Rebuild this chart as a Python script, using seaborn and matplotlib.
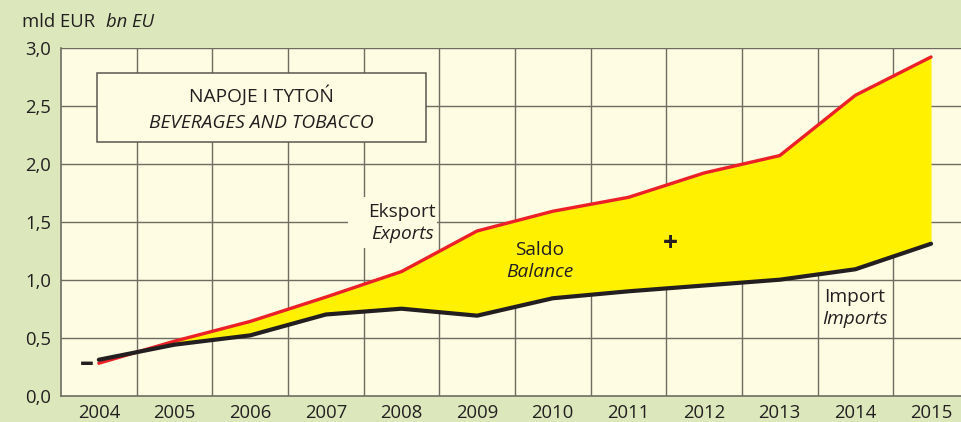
import matplotlib
matplotlib.use("Agg")
import matplotlib.pyplot as plt
import seaborn as sns
import pandas as pd
import numpy as np

# Data (bn EUR)
years = ["2004", "2005", "2006", "2007", "2008", "2009", "2010", "2011",
         "2012", "2013", "2014", "2015"]
exports = [0.28, 0.47, 0.64, 0.85, 1.07, 1.42, 1.59, 1.71, 1.92, 2.07, 2.59, 2.92]
imports = [0.31, 0.44, 0.52, 0.70, 0.75, 0.69, 0.84, 0.90, 0.95, 1.00, 1.09, 1.31]
y_ticks = [0.0, 0.5, 1.0, 1.5, 2.0, 2.5, 3.0]
y_tick_labels = ["0,0", "0,5", "1,0", "1,5", "2,0", "2,5", "3,0"]

FIG_BG = "#dce8bc"
AX_BG = "#fefce2"
GRID = "#6f6c62"
RED = "#ec2027"
BLACK = "#231f20"
YELLOW = "#fff100"
TEXT = "#231f20"

sns.set_theme(style="white")
plt.rcParams["font.family"] = ["Open Sans", "DejaVu Sans"]

df = pd.DataFrame({
    "x": np.arange(len(years)),
    "year": years,
    "Eksport": exports,
    "Import": imports,
})

fig = plt.figure(figsize=(9.61, 4.22), dpi=100, facecolor=FIG_BG)
W, H = 961, 422
left, right, top, bottom = 61, 961, 47.7, 395.7
ax = fig.add_axes([left / W, 1 - bottom / H, (right - left) / W, (bottom - top) / H])
ax.set_facecolor(AX_BG)

x = df["x"].to_numpy(dtype=float)
ex = df["Eksport"].to_numpy()
im = df["Import"].to_numpy()

# Balance area (export surplus)
ax.fill_between(x, im, ex, where=ex >= im, interpolate=True,
                color=YELLOW, linewidth=0, zorder=2)

sns.lineplot(data=df, x="x", y="Eksport", ax=ax, color=RED, linewidth=2.4,
             zorder=3, legend=False)
sns.lineplot(data=df, x="x", y="Import", ax=ax, color=BLACK, linewidth=3.0,
             zorder=4, legend=False)

ax.set_xlim(-0.5, (right - 98.9) / 75.65)
ax.set_ylim(0, 3.0)

# grid: horizontal at ticks, vertical between categories
for yv in y_ticks[1:]:
    ax.axhline(yv, color=GRID, linewidth=1.0, zorder=1)
for i in range(len(years)):
    ax.axvline(i + 0.5, color=GRID, linewidth=1.0, zorder=1)

for s in ["top", "right"]:
    ax.spines[s].set_visible(False)
for s in ["left", "bottom"]:
    ax.spines[s].set_color(GRID)
    ax.spines[s].set_linewidth(1.2)

FS = 13.8
ax.set_xticks(x)
ax.set_xticklabels(years, fontsize=13.3, color=TEXT)
ax.set_yticks(y_ticks)
ax.set_yticklabels(y_tick_labels, fontsize=13.3, color=TEXT)
ax.tick_params(axis="both", length=0)
ax.tick_params(axis="y", pad=7)
ax.tick_params(axis="x", pad=6)
ax.set_xlabel("")
ax.set_ylabel("")

# unit label
fig.text(22 / W, 1 - 22 / H, "mld EUR", fontsize=13.3, color=TEXT, va="center", ha="left")
fig.text(106 / W, 1 - 22 / H, "bn EU", fontsize=13.3, color=TEXT, va="center",
         ha="left", style="italic")

# title box
box_x0, box_x1 = -0.03, 4.33
box_y0, box_y1 = 2.19, 2.78
ax.add_patch(plt.Rectangle((box_x0, box_y0), box_x1 - box_x0, box_y1 - box_y0,
                           facecolor=AX_BG, edgecolor="#5a5750", linewidth=1.1,
                           zorder=5))
ax.text((box_x0 + box_x1) / 2, 2.585, "NAPOJE I TYTOŃ", ha="center", va="center",
        fontsize=FS, color=TEXT, zorder=6)
ax.text((box_x0 + box_x1) / 2, 2.355, "BEVERAGES AND TOBACCO", ha="center",
        va="center", fontsize=FS, color=TEXT, style="italic", zorder=6)

# series labels
ax.add_patch(plt.Rectangle((3.29, 1.27), 1.18, 0.44, facecolor=AX_BG,
                           edgecolor="none", zorder=1.5))
ax.text(4.01, 1.585, "Eksport", ha="center", va="center", fontsize=FS,
        color=TEXT, zorder=6)
ax.text(4.01, 1.395, "Exports", ha="center", va="center", fontsize=FS,
        color=TEXT, style="italic", zorder=6)

ax.text(5.83, 1.255, "Saldo", ha="center", va="center", fontsize=FS,
        color=TEXT, zorder=6)
ax.text(5.83, 1.065, "Balance", ha="center", va="center", fontsize=FS,
        color=TEXT, style="italic", zorder=6)

ax.text(7.55, 1.31, "+", ha="center", va="center", fontsize=19,
        color=TEXT, fontweight="bold", zorder=6)

ax.text(9.99, 0.855, "Import", ha="center", va="center", fontsize=FS,
        color=TEXT, zorder=6)
ax.text(9.99, 0.665, "Imports", ha="center", va="center", fontsize=FS,
        color=TEXT, style="italic", zorder=6)

ax.text(-0.16, 0.28, "–", ha="center", va="center", fontsize=20,
        color=TEXT, fontweight="bold", zorder=6)

fig.savefig("out.png", dpi=100, facecolor=FIG_BG)
